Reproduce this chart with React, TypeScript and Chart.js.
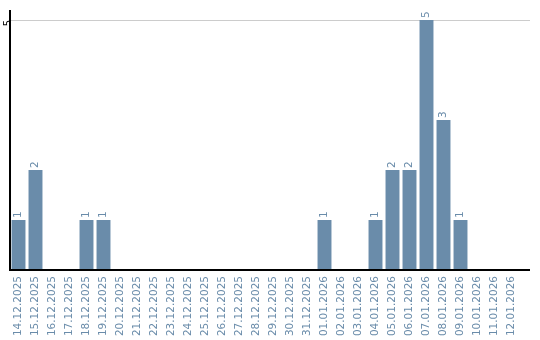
import React, { useEffect, useRef } from "react";
import { Chart, registerables } from "chart.js";

Chart.register(...registerables);

const categories: string[] = [
  "14.12.2025", "15.12.2025", "16.12.2025", "17.12.2025", "18.12.2025",
  "19.12.2025", "20.12.2025", "21.12.2025", "22.12.2025", "23.12.2025",
  "24.12.2025", "25.12.2025", "26.12.2025", "27.12.2025", "28.12.2025",
  "29.12.2025", "30.12.2025", "31.12.2025", "01.01.2026", "02.01.2026",
  "03.01.2026", "04.01.2026", "05.01.2026", "06.01.2026", "07.01.2026",
  "08.01.2026", "09.01.2026", "10.01.2026", "11.01.2026", "12.01.2026",
];

const counts: (number | null)[] = [
  1, 2, null, null, 1,
  1, null, null, null, null,
  null, null, null, null, null,
  null, null, null, 1, null,
  null, 1, 2, 2, 5,
  3, 1, null, null, null,
];

const yTicks: number[] = [0, 5];

const BAR_COLOR = "#6a8caa";
const FONT = "DejaVu Sans";

const barLabels = {
  id: "barLabels",
  afterDatasetsDraw(chart: any) {
    const ctx = chart.ctx;
    const meta = chart.getDatasetMeta(0);
    ctx.save();
    ctx.fillStyle = BAR_COLOR;
    ctx.font = `10.5px "${FONT}"`;
    ctx.textAlign = "left";
    ctx.textBaseline = "middle";
    meta.data.forEach((el: any, i: number) => {
      const v = counts[i];
      if (v == null) return;
      ctx.save();
      ctx.translate(el.x, el.y - 2);
      ctx.rotate(-Math.PI / 2);
      ctx.fillText(String(v), 0, 0);
      ctx.restore();
    });
    ctx.restore();
  },
};

const gridAndAxes = {
  id: "gridAndAxes",
  beforeDatasetsDraw(chart: any) {
    const ctx = chart.ctx;
    const { left } = chart.chartArea;
    const yScale = chart.scales.y;
    ctx.save();
    ctx.strokeStyle = "#cccccc";
    ctx.lineWidth = 1;
    yTicks.forEach((v) => {
      if (v === 0) return;
      const y = Math.round(yScale.getPixelForValue(v)) + 0.5;
      ctx.beginPath();
      ctx.moveTo(left, y);
      ctx.lineTo(chart.width - 10, y);
      ctx.stroke();
    });
    ctx.restore();
  },
  afterDraw(chart: any) {
    const ctx = chart.ctx;
    const { left, bottom } = chart.chartArea;
    ctx.save();
    ctx.strokeStyle = "#000";
    ctx.lineWidth = 2;
    ctx.beginPath();
    ctx.moveTo(left, 10);
    ctx.lineTo(left, bottom + 1);
    ctx.moveTo(left, bottom);
    ctx.lineTo(chart.width - 10, bottom);
    ctx.stroke();
    ctx.restore();
  },
};

export default function App() {
  const ref = useRef<HTMLCanvasElement | null>(null);
  useEffect(() => {
    document.body.style.margin = "0";
    if (!ref.current) return;
    const chart = new Chart(ref.current, {
      type: "bar",
      data: {
        labels: categories,
        datasets: [
          {
            data: counts,
            backgroundColor: BAR_COLOR,
            categoryPercentage: 1,
            barPercentage: 0.82,
          },
        ],
      },
      options: {
        animation: false,
        responsive: false,
        layout: { padding: { top: 20, right: 20, left: 0, bottom: 0 } },
        plugins: { legend: { display: false }, tooltip: { enabled: false } },
        scales: {
          x: {
            offset: true,
            grid: { display: false, drawTicks: false },
            border: { display: false },
            ticks: {
              color: BAR_COLOR,
              font: { family: FONT, size: 10.5 },
              minRotation: 90,
              maxRotation: 90,
              autoSkip: false,
              padding: 6,
            },
            afterFit: (s: any) => {
              s.height = 70;
            },
          },
          y: {
            min: 0,
            max: 5,
            afterBuildTicks: (s: any) => {
              s.ticks = yTicks.map((v) => ({ value: v }));
            },
            grid: { display: false, drawTicks: false },
            border: { display: false },
            ticks: {
              color: "#000",
              font: { family: FONT, size: 10 },
              minRotation: 90,
              maxRotation: 90,
              padding: 2,
              callback: (v: any) => (v === 5 ? "5" : ""),
            },
            afterFit: (s: any) => {
              s.width = 10;
            },
          },
        },
      },
      plugins: [barLabels, gridAndAxes],
    });
    return () => chart.destroy();
  }, []);
  return (
    <div style={{ width: 540, height: 340 }}>
      <canvas ref={ref} width={540} height={340} style={{ display: "block" }} />
    </div>
  );
}
